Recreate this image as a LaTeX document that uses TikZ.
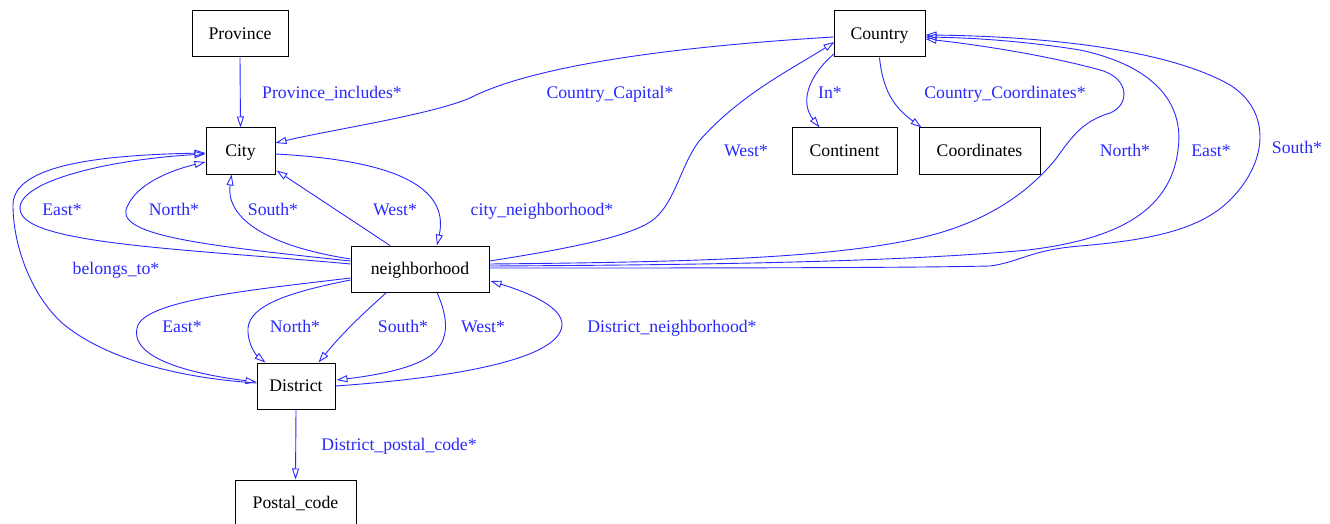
\documentclass[tikz,border=0pt]{standalone}
\usepackage{fontspec}
\setmainfont{Liberation Serif}
\usetikzlibrary{arrows.meta,calc}
\definecolor{edgeblue}{RGB}{40,40,255}
\begin{document}
\begin{tikzpicture}[x=1pt,y=-1pt,
  box/.style={draw=black,line width=1pt,inner sep=0pt,minimum height=46pt,
    text height=14pt,text depth=3pt,font=\fontsize{17.7}{20}\selectfont},
  lbl/.style={text=edgeblue,inner sep=0pt,text height=14pt,text depth=3pt,
    font=\fontsize{17.7}{20}\selectfont},
  rel/.style={draw=edgeblue,line width=0.9pt,
    -{Triangle[open,length=11pt,width=7pt]}}]
\useasboundingbox (0,0) rectangle (1330,524);

% classes
\node[box,minimum width=96pt]  (Province)     at (240,34)    {Province};
\node[box,minimum width=91pt]  (Country)      at (879.5,34)  {Country};
\node[box,minimum width=69pt]  (City)         at (240.5,151) {City};
\node[box,minimum width=105pt] (Continent)    at (844.5,151) {Continent};
\node[box,minimum width=121pt] (Coordinates)  at (979.5,151) {Coordinates};
\node[box,minimum width=138pt] (neighborhood) at (420,269)   {neighborhood};
\node[box,minimum width=78pt]  (District)     at (296,386)   {District};
\node[box,minimum width=121pt] (Postal_code)  at (295.5,503) {Postal\_code};

% relations from Province and Country
\draw[rel] (Province.south) -- (City.north);
\draw[rel] ($(Country.west)+(0,3)$) .. controls (700,45) and (540,62) .. (470,98)
  .. controls (430,115) and (330,130) .. ($(City.east)+(0,-8)$);
\draw[rel] ($(Country.south west)+(1,-4)$) .. controls (812,72) and (798,100) .. ($(Continent.north west)+(28,0)$);
\draw[rel] (Country.south) .. controls (883,95) and (898,110) .. ($(Coordinates.north west)+(3,0)$);

% City <-> neighborhood
\draw[rel] ($(City.east)+(0,3)$) .. controls (390,160) and (450,185) .. ($(neighborhood.north)+(17,0)$);
\draw[rel] ($(neighborhood.north)+(-30,0)$) -- ($(City.south east)+(1,-4)$);
\draw[rel] ($(neighborhood.west)+(0,-10)$) .. controls (260,245) and (226,215) .. ($(City.south)+(-9,0)$);
\draw[rel] ($(neighborhood.west)+(0,-8)$) .. controls (200,245) and (110,235) .. (128,205)
  .. controls (140,180) and (180,168) .. ($(City.west)+(0,11)$);
\draw[rel] ($(neighborhood.west)+(0,-5)$) .. controls (200,250) and (40,245) .. (22,215)
  .. controls (5,185) and (100,160) .. ($(City.west)+(0,3)$);
\draw[rel] ($(District.west)+(0,-3)$) .. controls (180,378) and (110,360) .. (67,327)
  .. controls (35,302) and (13,250) .. (13,205)
  .. controls (13,165) and (100,155) .. ($(City.west)+(0,2)$);

% neighborhood <-> District
\draw[rel] ($(neighborhood.west)+(0,9)$) .. controls (250,290) and (150,300) .. (138,325)
  .. controls (125,360) and (200,375) .. ($(District.west)+(0,-4)$);
\draw[rel] ($(neighborhood.west)+(0,11)$) .. controls (290,292) and (250,305) .. (248,328)
  .. controls (247,343) and (256,355) .. ($(District.north west)+(9,0)$);
\draw[rel] ($(neighborhood.south west)+(36,0)$) .. controls (365,312) and (345,330) .. ($(District.north east)+(-17,0)$);
\draw[rel] ($(neighborhood.south)+(17,0)$) .. controls (447,315) and (452,340) .. (430,356)
  .. controls (410,370) and (370,376) .. ($(District.east)+(1,-6)$);
\draw[rel] (District.east) .. controls (450,378) and (560,360) .. (562,325)
  .. controls (563,305) and (520,290) .. ($(neighborhood.east)+(1,12)$);
\draw[rel] (District.south) -- (Postal_code.north);

% neighborhood -> Country
\draw[rel] ($(neighborhood.east)+(0,-8)$) .. controls (560,250) and (625,238) .. (650,222)
  .. controls (675,206) and (680,165) .. (700,140)
  .. controls (740,95) and (790,70) .. ($(Country.west)+(1,8)$);
\draw[rel] ($(neighborhood.east)+(0,-5)$) .. controls (700,262) and (830,258) .. (920,238)
  .. controls (990,222) and (1030,190) .. (1055,160)
  .. controls (1070,140) and (1080,122) .. (1110,113)
  .. controls (1130,105) and (1130,78) .. (1100,70)
  .. controls (1050,56) and (980,45) .. ($(Country.east)+(0,5)$);
\draw[rel] ($(neighborhood.east)+(0,-3)$) .. controls (700,265) and (900,262) .. (1028,250)
  .. controls (1110,240) and (1170,215) .. (1178,150)
  .. controls (1185,100) and (1150,65) .. (1080,50)
  .. controls (1030,42) and (980,38) .. ($(Country.east)+(0,3)$);
\draw[rel] ($(neighborhood.east)+(0,-1)$) .. controls (700,268) and (900,268) .. (990,266)
  .. controls (1020,262) and (1030,250) .. (1080,246)
  .. controls (1150,240) and (1200,230) .. (1230,200)
  .. controls (1270,160) and (1270,110) .. (1230,85)
  .. controls (1160,45) and (1020,36) .. ($(Country.east)+(0,1)$);

% relation names
\node[lbl] (l1)  at (332,93)   {Province\_includes*};
\node[lbl] (l2)  at (610,93)   {Country\_Capital*};
\node[lbl] (l3)  at (830,93)   {In*};
\node[lbl] (l4)  at (1005,93)  {Country\_Coordinates*};
\node[lbl] (l5)  at (746,151)  {West*};
\node[lbl] (l6)  at (1125,151) {North*};
\node[lbl] (l7)  at (1211,151) {East*};
\node[lbl] (l8)  at (1297,148) {South*};
\node[lbl] (l9)  at (62,210)   {East*};
\node[lbl] (l10) at (174,210)  {North*};
\node[lbl] (l11) at (273,210)  {South*};
\node[lbl] (l12) at (395,210)  {West*};
\node[lbl] (l13) at (542,210)  {city\_neighborhood*};
\node[lbl] (l14) at (116,269)  {belongs\_to*};
\node[lbl] (l15) at (182,327)  {East*};
\node[lbl] (l16) at (295,327)  {North*};
\node[lbl] (l17) at (403,327)  {South*};
\node[lbl] (l18) at (483,327)  {West*};
\node[lbl] (l19) at (672,327)  {District\_neighborhood*};
\node[lbl] (l20) at (399,445)  {District\_postal\_code*};
\end{tikzpicture}
\end{document}
